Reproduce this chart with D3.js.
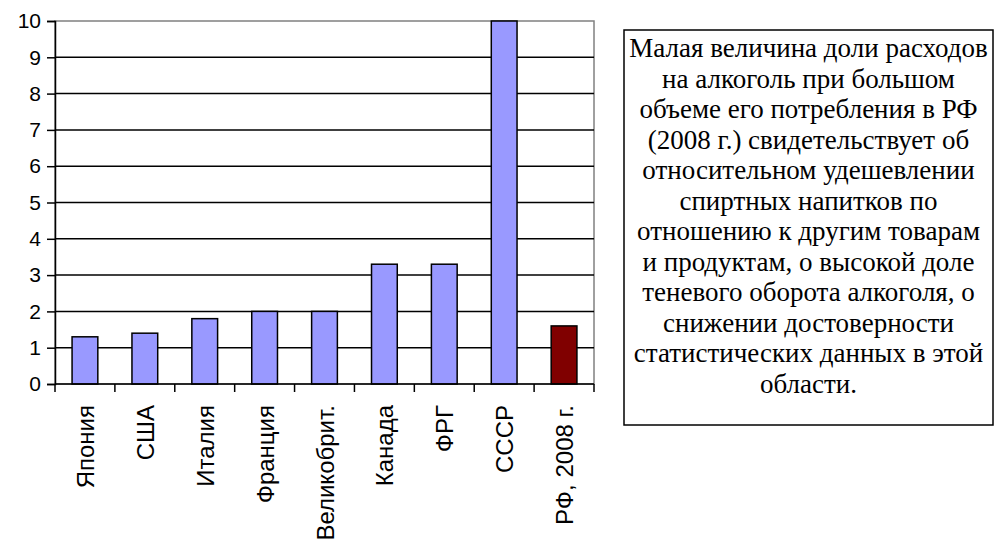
<!DOCTYPE html>
<html><head><meta charset="utf-8">
<script src="https://cdn.jsdelivr.net/npm/d3@7"></script>
<style>body{margin:0;background:#fff;} svg{display:block;}</style>
</head><body>
<script>
const categories = ["Япония","США","Италия","Франция","Великобрит.","Канада","ФРГ","СССР","РФ, 2008 г."];
const values = [1.3, 1.4, 1.8, 2.0, 2.0, 3.3, 3.3, 10, 1.6];
const barColors = ["#9999FF","#9999FF","#9999FF","#9999FF","#9999FF","#9999FF","#9999FF","#9999FF","#800000"];
const yTicks = [0,1,2,3,4,5,6,7,8,9,10];
const noteLines = ["Малая величина доли расходов","на алкоголь при большом","объеме его потребления в РФ","(2008 г.) свидетельствует об","относительном удешевлении","спиртных напитков по","отношению к другим товарам","и продуктам, о высокой доле","теневого оборота алкоголя, о","снижении достоверности","статистических данных в этой","области."];

(function(){
const W=995,H=544;
const svg=d3.select("body").append("svg").attr("width",W).attr("height",H);
const pL=55,pR=594,pT=21,pB=384;
const x=d3.scaleBand().domain(categories).range([pL,pR]).paddingInner(0.57).paddingOuter(0.285);
const y=d3.scaleLinear().domain([0,10]).range([pB,pT]);

svg.append("rect").attr("x",pL).attr("y",pT).attr("width",pR-pL).attr("height",pB-pT)
  .attr("fill","none").attr("stroke","#808080").attr("stroke-width",1.5);
svg.append("g").selectAll("line").data(yTicks.filter(d=>d>0&&d<10)).join("line")
  .attr("x1",pL).attr("x2",pR).attr("y1",d=>y(d)).attr("y2",d=>y(d))
  .attr("stroke","#000").attr("stroke-width",1.5);

svg.append("g").selectAll("rect").data(values).join("rect")
  .attr("x",(d,i)=>x(categories[i])).attr("width",x.bandwidth())
  .attr("y",d=>y(d)).attr("height",d=>y(0)-y(d))
  .attr("fill",(d,i)=>barColors[i]).attr("stroke","#000").attr("stroke-width",1.5);

const ya=svg.append("g").attr("transform",`translate(${pL},0)`)
  .call(d3.axisLeft(y).tickValues(yTicks).tickSize(8).tickPadding(6).tickFormat(d3.format("d")));
ya.select(".domain").attr("stroke","#000").attr("stroke-width",1.5);
ya.selectAll(".tick line").attr("stroke","#000").attr("stroke-width",1.5);
ya.selectAll("text").attr("fill","#000").attr("font-family","Liberation Sans").attr("font-size",21);

const xa=svg.append("g").attr("transform",`translate(0,${pB})`);
xa.append("line").attr("x1",pL).attr("x2",pR).attr("stroke","#000").attr("stroke-width",1.5);
const bounds=d3.range(categories.length+1).map(i=>pL+i*((pR-pL)/categories.length));
xa.selectAll(".tk").data(bounds).join("line").attr("class","tk")
  .attr("x1",d=>d).attr("x2",d=>d).attr("y1",0).attr("y2",8).attr("stroke","#000").attr("stroke-width",1.5);
xa.selectAll("text").data(categories).join("text")
  .attr("transform",d=>`translate(${x(d)+x.bandwidth()/2+9},21) rotate(-90)`)
  .attr("text-anchor","end")
  .attr("fill","#000").attr("font-family","Liberation Sans").attr("font-size",24)
  .text(d=>d);

const bx=624,by=30,bw=369,bh=395;
svg.append("rect").attr("x",bx).attr("y",by).attr("width",bw).attr("height",bh)
  .attr("fill","#fff").attr("stroke","#000").attr("stroke-width",1.5);
svg.selectAll("text.note").data(noteLines).join("text")
  .attr("class","note")
  .attr("x",bx+bw/2).attr("y",(d,i)=>57+i*30.5)
  .attr("text-anchor","middle")
  .attr("font-family","Liberation Serif").attr("font-size",27)
  .attr("fill","#000")
  .text(d=>d);
})();
</script>
</body></html>
